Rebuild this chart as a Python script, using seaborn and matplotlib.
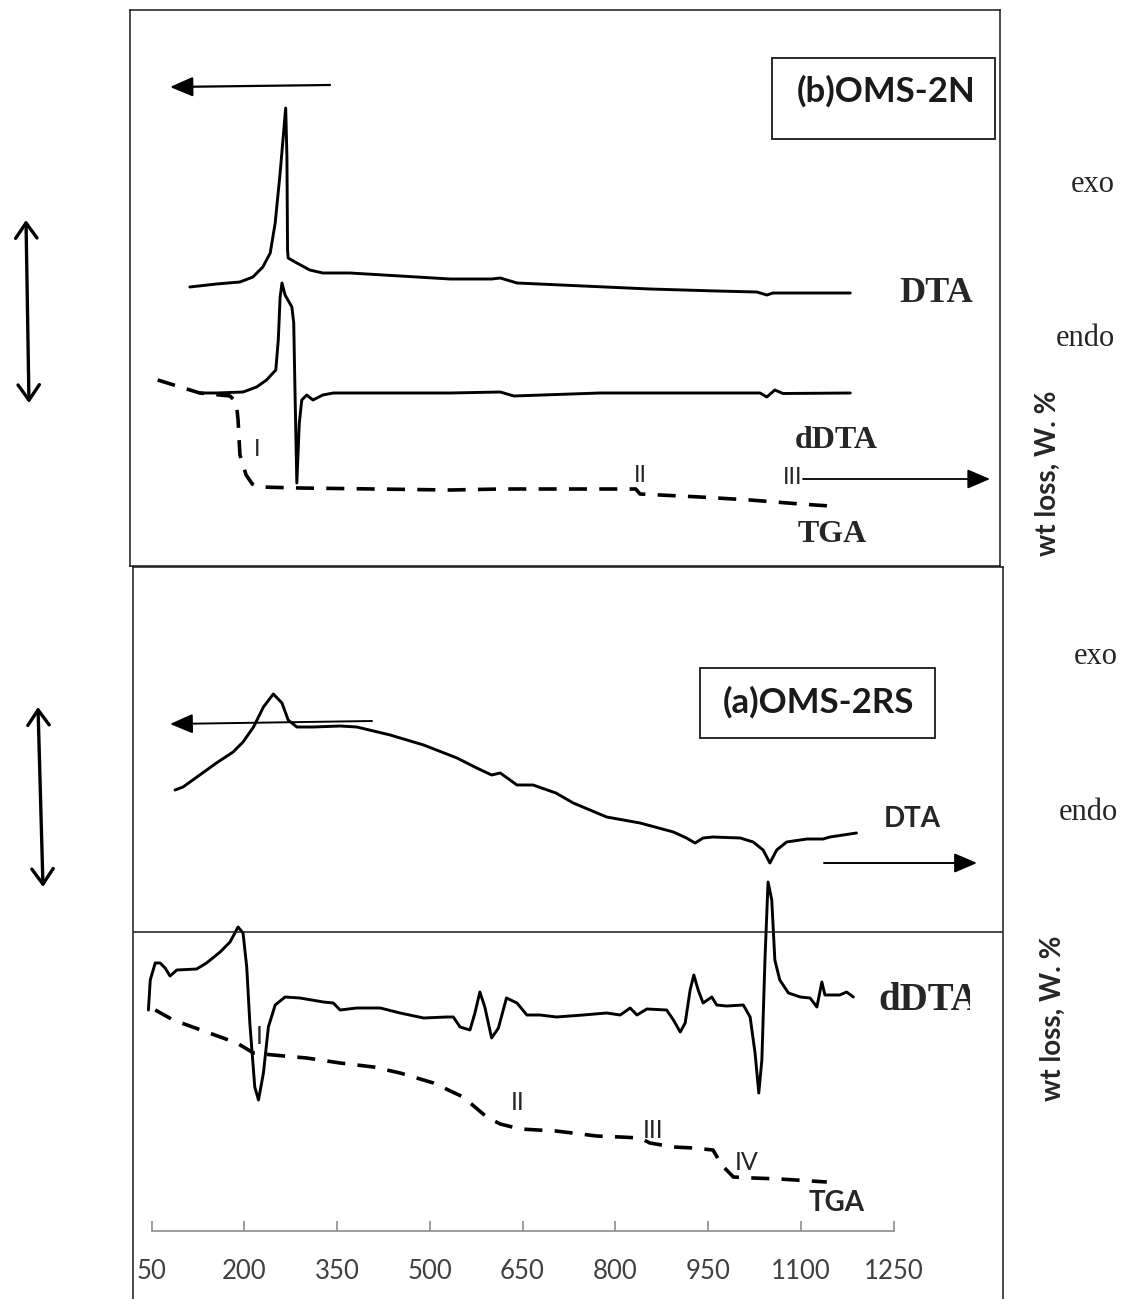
import numpy as np
import pandas as pd
import matplotlib
matplotlib.use("Agg")
import matplotlib.pyplot as plt
import seaborn as sns
from matplotlib.patches import Rectangle, FancyArrowPatch
from matplotlib.transforms import Bbox, TransformedBbox

# ---------------- data (temperature in degC, signal in arbitrary units) -------------
# (b) OMS-2N  (upper panel)
top_dta_T = [112, 155, 193, 214, 230, 242, 250, 258, 267, 269, 270, 271, 285, 306, 327, 371,
             452, 533, 600, 614, 641, 748, 856, 964, 1029, 1045, 1055, 1180]
top_dta_sig = [279, 282, 284, 289, 299, 313, 343, 393, 458, 409, 316, 308, 303, 296, 293, 293,
               290, 287, 287, 288, 283, 280, 277, 275, 274, 271, 273, 273]

top_ddta_T = [128, 155, 198, 220, 236, 251, 255, 258, 261, 266, 277, 280, 282, 285, 289, 293,
              301, 311, 327, 344, 371, 533, 614, 636, 775, 937, 1034, 1045, 1058, 1071, 1180]
top_ddta_sig = [173, 173, 174, 179, 186, 196, 226, 269, 283, 271, 259, 243, 176, 83, 143, 166,
                171, 166, 171, 173, 173, 173, 174, 170, 173, 173, 173, 169, 176, 172.5, 173]

top_tga_T = [60, 128, 177, 187, 190, 193, 203, 213, 225, 290, 533, 614, 775, 833, 840, 937,
             1018, 1099, 1147]
top_tga_sig = [186, 173, 170, 164, 146, 111, 91, 82, 79, 78, 76, 77, 77, 77, 72, 69, 66, 62, 60]

# (a) OMS-2RS  (lower panel)
bot_dta_T = [88, 101, 128, 155, 182, 198, 215, 231, 247, 261, 271, 285, 312, 355, 382, 436,
             490, 544, 576, 600, 614, 641, 667, 704, 732, 786, 840, 894, 915, 929, 942, 958,
             1002, 1023, 1039, 1050, 1061, 1077, 1110, 1136, 1147, 1190]
bot_dta_sig = [509, 512, 524, 536, 547, 557, 572, 592, 605, 596, 579, 572, 572, 573, 572, 564,
               554, 541, 531, 524, 526, 514, 514, 506, 496, 482, 476, 467, 461, 456, 461, 462,
               461, 457, 449, 436, 449, 457, 460, 460, 462, 466]

bot_ddta_T = [45, 48, 56, 64, 72, 80, 91, 123, 139, 161, 177, 190, 198, 204, 209, 217, 223, 231,
              239, 250, 266, 290, 328, 344, 355, 382, 420, 452, 490, 527, 538, 549, 565, 573,
              581, 589, 600, 611, 624, 641, 657, 678, 705, 748, 786, 808, 824, 835, 851, 883,
              894, 905, 913, 921, 927, 934, 942, 956, 964, 980, 1007, 1018, 1026, 1032, 1037,
              1042, 1047, 1053, 1058, 1066, 1080, 1099, 1115, 1126, 1134, 1139, 1163, 1174, 1185]
bot_ddta_sig = [289, 319, 336, 336, 331, 323, 329, 330, 336, 347, 357, 372, 366, 332, 276, 212,
                199, 226, 272, 294, 302, 301, 297, 296, 289, 291, 291, 286, 281, 282, 282, 272,
                269, 286, 307, 292, 261, 271, 301, 296, 284, 284, 282, 284, 286, 284, 291, 284,
                290, 289, 279, 267, 276, 309, 324, 309, 296, 302, 294, 293, 294, 282, 246, 206,
                239, 339, 417, 399, 339, 319, 306, 302, 301, 292, 317, 304, 304, 307, 302]

bot_tga_T = [56, 85, 139, 188, 215, 247, 301, 355, 409, 452, 506, 554, 592, 614, 646, 704, 770,
             808, 840, 856, 894, 926, 958, 972, 991, 1023, 1066, 1142]
bot_tga_sig = [289, 279, 267, 256, 246, 244, 241, 236, 232, 226, 216, 202, 182, 175, 170, 168,
               163, 162, 161, 156, 152, 151, 149, 134, 122, 121, 120, 117]

x_ticks = [50, 200, 350, 500, 650, 800, 950, 1100, 1250]

# ---------------- figure setup ----------------
sns.set_theme(style="white")
plt.rcParams['font.family'] = ['Lato', 'DejaVu Sans']

W, H = 1123, 1299
fig = plt.figure(figsize=(W / 100, H / 100), dpi=100)
fig.patch.set_facecolor('white')


def fx(px):
    return px / W


def fy(py):
    return 1 - py / H


def px2T(px):
    return 50 + (px - 151.5) / 0.6184


SERIF = ['Liberation Serif', 'DejaVu Serif']
SANS = ['Lato', 'DejaVu Sans']
LW = 2.1
DASH = (0, (5.0, 3.4))

ax_top = fig.add_axes([fx(130), fy(566), (1000 - 130) / W, (566 - 10) / H])
ax_top.set_xlim(px2T(130), px2T(1000))
ax_top.set_ylim(0, 556)
ax_bot = fig.add_axes([fx(133), fy(1299), (1003 - 133) / W, (1299 - 567) / H])
ax_bot.set_xlim(px2T(133), px2T(1003))
ax_bot.set_ylim(0, 732)

for ax in (ax_top, ax_bot):
    ax.set_facecolor('none')
    ax.set_xticks([])
    ax.set_yticks([])
    ax.set_xlabel('')
    ax.set_ylabel('')
    for s in ax.spines.values():
        s.set_visible(True)
        s.set_color('#1a1a1a')
        s.set_linewidth(1.1)
ax_bot.spines['bottom'].set_visible(False)


def curve(ax, T, sig, dashed=False):
    df = pd.DataFrame({'T': T, 'sig': sig})
    sns.lineplot(data=df, x='T', y='sig', ax=ax, sort=False, estimator=None,
                 color='black', linewidth=(2.6 if dashed else LW))
    ln = ax.lines[-1]
    ln.set_solid_capstyle('round')
    ln.set_solid_joinstyle('round')
    if dashed:
        ln.set_linestyle(DASH)
        ln.set_dash_capstyle('butt')
    ax.set_xlabel('')
    ax.set_ylabel('')


curve(ax_top, top_dta_T, top_dta_sig)
curve(ax_top, top_ddta_T, top_ddta_sig)
curve(ax_top, top_tga_T, top_tga_sig, dashed=True)

curve(ax_bot, bot_dta_T, bot_dta_sig)
curve(ax_bot, bot_ddta_T, bot_ddta_sig)
curve(ax_bot, bot_tga_T, bot_tga_sig, dashed=True)
ax_bot.axhline(1299 - 932, color='#1a1a1a', lw=1.1)

# bottom temperature axis
ax_x = fig.add_axes([fx(151.5), fy(1231), (893.6 - 151.5) / W, 0.0005])
ax_x.set_facecolor('none')
ax_x.set_xlim(50, 1250)
ax_x.set_ylim(0, 1)
ax_x.set_xticks(x_ticks)
ax_x.set_xticklabels([str(t) for t in x_ticks], fontsize=18.5, color='#404040', family=SANS)
ax_x.set_yticks([])
for k in ('top', 'left', 'right'):
    ax_x.spines[k].set_visible(False)
ax_x.spines['bottom'].set_color('#8c8c8c')
ax_x.spines['bottom'].set_linewidth(1.2)
ax_x.tick_params(axis='x', direction='in', length=7, width=1.2, color='#8c8c8c', pad=20,
                 bottom=True)

# ---------------- annotations ----------------
def ftext(px, py, s, **kw):
    return fig.text(fx(px), fy(py), s, **kw)


def arrow(p0, p1, style, lw, ms, color='black'):
    a = FancyArrowPatch((fx(p0[0]), fy(p0[1])), (fx(p1[0]), fy(p1[1])),
                        transform=fig.transFigure, arrowstyle=style, lw=lw,
                        mutation_scale=ms, color=color, shrinkA=0, shrinkB=0)
    fig.add_artist(a)


def box(x0, y0, x1, y1):
    r = Rectangle((fx(x0), fy(y1)), (x1 - x0) / W, (y1 - y0) / H, transform=fig.transFigure,
                  fill=False, edgecolor='#1a1a1a', lw=1.3)
    fig.add_artist(r)


# upper panel
box(772, 58, 995, 139)
ftext(886, 91, '(b)OMS-2N', ha='center', va='center', fontsize=25, fontweight='bold',
      family=SANS, color='#1a1a1a')
arrow((330, 85), (170, 87), '-|>,head_length=0.7,head_width=0.3', 1.6, 20)
ftext(936, 294, 'DTA', ha='center', va='center', fontsize=26, fontweight='bold', family=SERIF)
ftext(836, 440, 'dDTA', ha='center', va='center', fontsize=23, fontweight='bold', family=SERIF)
ftext(832, 534, 'TGA', ha='center', va='center', fontsize=23, fontweight='bold', family=SERIF)
ftext(257, 450, 'I', ha='center', va='center', fontsize=17, family=SANS)
ftext(640, 476, 'II', ha='center', va='center', fontsize=17, family=SANS)
ftext(793, 478, 'III', ha='center', va='center', fontsize=17, family=SANS)
arrow((803, 479), (990, 479), '-|>,head_length=0.7,head_width=0.3', 1.3, 20)

ftext(1115, 185, 'exo', ha='right', va='center', fontsize=22, family=SERIF)
ftext(1115, 338, 'endo', ha='right', va='center', fontsize=22, family=SERIF)
ftext(1048, 473, 'wt loss, W. %', ha='center', va='center', rotation=90, fontsize=20,
      fontweight='bold', family=SANS)
arrow((26, 220), (29, 403), '<->,head_length=0.5,head_width=0.35', 2.4, 22)

# lower panel
box(700, 668, 935, 738)
ftext(818, 702, '(a)OMS-2RS', ha='center', va='center', fontsize=25, fontweight='bold',
      family=SANS, color='#1a1a1a')
arrow((372, 721), (170, 724), '-|>,head_length=0.7,head_width=0.3', 1.4, 20)
ftext(912, 819, 'DTA', ha='center', va='center', fontsize=20, fontweight='bold', family=SANS)
arrow((824, 863), (977, 863), '-|>,head_length=0.7,head_width=0.3', 1.4, 20)
t = ftext(878, 1000, 'dDTA', ha='left', va='center', fontsize=28, fontweight='bold',
          family=SERIF)
t.set_clip_box(TransformedBbox(Bbox.from_extents(fx(860), fy(1040), fx(970), fy(960)),
                               fig.transFigure))
t.set_clip_on(True)
ftext(837, 1203, 'TGA', ha='center', va='center', fontsize=20, fontweight='bold', family=SANS)
ftext(259, 1037, 'I', ha='center', va='center', fontsize=18, family=SANS)
ftext(518, 1103, 'II', ha='center', va='center', fontsize=18, family=SANS)
ftext(653, 1130, 'III', ha='center', va='center', fontsize=18, family=SANS)
ftext(747, 1162, 'IV', ha='center', va='center', fontsize=18, family=SANS)

ftext(1118, 657, 'exo', ha='right', va='center', fontsize=22, family=SERIF)
ftext(1118, 813, 'endo', ha='right', va='center', fontsize=22, family=SERIF)
ftext(1053, 1018, 'wt loss, W. %', ha='center', va='center', rotation=90, fontsize=20,
      fontweight='bold', family=SANS)
arrow((38, 707), (43, 887), '<->,head_length=0.5,head_width=0.35', 2.4, 22)

fig.savefig('out.png', dpi=100, facecolor='white')
